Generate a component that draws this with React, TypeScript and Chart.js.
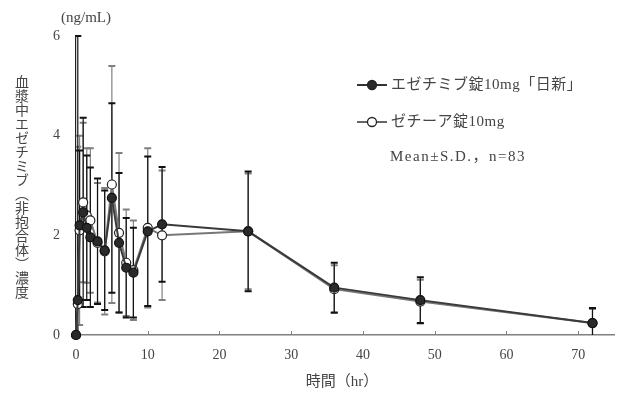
import React, { useEffect, useRef } from 'react';
import { Chart, registerables } from 'chart.js';

Chart.register(...registerables);

// ---- data ----
const times = [0, 0.25, 0.5, 1, 1.5, 2, 3, 4, 5, 6, 7, 8, 10, 12, 24, 36, 48, 72];
const genericMean = [0, 0.7, 2.2, 2.46, 2.15, 1.96, 1.88, 1.7, 2.75, 1.85, 1.35, 1.25, 2.08, 2.22, 2.08, 0.95, 0.7, 0.24];
const genericSD = [0, 5.3, 1.5, 1.9, 1.45, 1.4, 1.26, 1.2, 1.9, 1.4, 1.0, 0.9, 1.5, 1.15, 1.2, 0.5, 0.46, 0.3];
const brandMean = [0, 0.62, 2.1, 2.66, 2.4, 2.3, 1.85, 1.68, 3.02, 2.05, 1.45, 1.3, 2.15, 2.0, 2.08, 0.92, 0.67, 0.24];
const brandSD = [0, 3.16, 1.9, 1.6, 1.35, 1.45, 1.2, 1.27, 2.38, 1.6, 1.07, 1.0, 1.6, 1.3, 1.16, 0.48, 0.44, 0.28];
const xTicks = [0, 10, 20, 30, 40, 50, 60, 70];
const yTicks = [0, 2, 4, 6];
const seriesNames = ['エゼチミブ錠10mg「日新」', 'ゼチーア錠10mg'];
const noteText = 'Mean±S.D.，n=83';
const unitText = '(ng/mL)';
const xTitle = '時間（hr）';
const yTitle = '血漿中エゼチミブ（非抱合体）濃度';

const FONT = "'Liberation Serif', 'Noto Sans CJK JP', serif";
const TEXT = '#444';
const DARK = '#2a2a2a';
const GRAY = '#808080';

const errorBars = {
  id: 'errorBars',
  beforeDatasetsDraw(chart: any) {
    const { ctx, chartArea, scales } = chart;
    const x = scales.x;
    const y = scales.y;
    const sets = [
      { mean: brandMean, sd: brandSD, color: GRAY },
      { mean: genericMean, sd: genericSD, color: '#111' },
    ];
    ctx.save();
    ctx.beginPath();
    ctx.rect(chartArea.left, chartArea.top - 2, chartArea.right - chartArea.left, chartArea.bottom - chartArea.top + 2);
    ctx.clip();
    sets.forEach((s) => {
      ctx.strokeStyle = s.color;
      times.forEach((t, i) => {
        const sd = s.sd[i];
        if (!sd) return;
        const px = x.getPixelForValue(t);
        const top = y.getPixelForValue(s.mean[i] + sd);
        const bot = y.getPixelForValue(s.mean[i] - sd);
        ctx.lineWidth = 1.2;
        ctx.beginPath();
        ctx.moveTo(px, top);
        ctx.lineTo(px, bot);
        ctx.stroke();
        ctx.lineWidth = 2;
        ctx.beginPath();
        ctx.moveTo(px - 3.5, top);
        ctx.lineTo(px + 3.5, top);
        ctx.moveTo(px - 3.5, bot);
        ctx.lineTo(px + 3.5, bot);
        ctx.stroke();
      });
    });
    ctx.restore();
  },
};

const decorations = {
  id: 'decorations',
  afterDraw(chart: any) {
    const { ctx, scales } = chart;
    const x = scales.x;
    const y = scales.y;
    ctx.save();
    // inward ticks on x axis
    ctx.strokeStyle = GRAY;
    ctx.lineWidth = 1;
    xTicks.forEach((v) => {
      if (v === 0) return;
      const px = Math.round(x.getPixelForValue(v)) + 0.5;
      ctx.beginPath();
      ctx.moveTo(px, y.bottom);
      ctx.lineTo(px, y.bottom - 4);
      ctx.stroke();
    });
    // unit
    ctx.fillStyle = TEXT;
    ctx.font = `15px ${FONT}`;
    ctx.textAlign = 'left';
    ctx.textBaseline = 'middle';
    ctx.fillText(unitText, 61, 18);
    // x title
    ctx.textAlign = 'center';
    ctx.fillText(xTitle, 342, 382);
    // legend
    const items = [
      { y: 85, line: '#333', fill: DARK, name: seriesNames[0] },
      { y: 122, line: '#666', fill: '#fff', name: seriesNames[1] },
    ];
    items.forEach((it) => {
      ctx.strokeStyle = it.line;
      ctx.lineWidth = 2;
      ctx.beginPath();
      ctx.moveTo(357, it.y);
      ctx.lineTo(387, it.y);
      ctx.stroke();
      ctx.beginPath();
      ctx.arc(372, it.y, 4.5, 0, Math.PI * 2);
      ctx.fillStyle = it.fill;
      ctx.fill();
      ctx.lineWidth = 1.3;
      ctx.strokeStyle = '#222';
      ctx.stroke();
      ctx.fillStyle = TEXT;
      ctx.textAlign = 'left';
      ctx.font = `15px ${FONT}`;
      (ctx as any).letterSpacing = '0.5px';
      ctx.fillText(it.name, 391, it.y);
    });
    (ctx as any).letterSpacing = '1.5px';
    ctx.fillText(noteText, 390, 157);
    (ctx as any).letterSpacing = '0px';
    ctx.restore();
  },
};

export default function App() {
  const ref = useRef<HTMLCanvasElement | null>(null);

  useEffect(() => {
    if (!ref.current) return;
    const chart = new Chart(ref.current, {
      type: 'line',
      data: {
        datasets: [
          {
            label: seriesNames[0],
            data: times.map((t, i) => ({ x: t, y: genericMean[i] })),
            borderColor: '#3a3a3a',
            borderWidth: 2,
            backgroundColor: DARK,
            pointBackgroundColor: DARK,
            pointBorderColor: '#111',
            pointBorderWidth: 1.2,
            pointRadius: 4.5,
            tension: 0,
            clip: false as any,
          },
          {
            label: seriesNames[1],
            data: times.map((t, i) => ({ x: t, y: brandMean[i] })),
            borderColor: '#777',
            borderWidth: 2,
            backgroundColor: '#fff',
            pointBackgroundColor: '#fff',
            pointBorderColor: '#222',
            pointBorderWidth: 1.2,
            pointRadius: 4.5,
            tension: 0,
            clip: false as any,
          },
        ],
      },
      options: {
        animation: false,
        responsive: false,
        maintainAspectRatio: false,
        layout: { padding: { top: 36, right: 6, left: 0, bottom: 0 } },
        plugins: { legend: { display: false }, tooltip: { enabled: false } },
        scales: {
          x: {
            type: 'linear',
            min: 0,
            max: 75,
            afterBuildTicks: (scale: any) => {
              scale.ticks = xTicks.map((v) => ({ value: v }));
            },
            afterFit: (scale: any) => {
              scale.height = 63;
            },
            grid: { display: false },
            border: { display: true, color: GRAY, width: 1.5 },
            ticks: { color: TEXT, font: { family: FONT, size: 14 }, padding: 4, maxRotation: 0 },
          },
          y: {
            type: 'linear',
            min: 0,
            max: 6,
            afterBuildTicks: (scale: any) => {
              scale.ticks = yTicks.map((v) => ({ value: v }));
            },
            afterFit: (scale: any) => {
              scale.width = 76;
            },
            grid: { display: false },
            border: { display: true, color: '#222', width: 1.2 },
            ticks: { color: TEXT, font: { family: FONT, size: 14 }, padding: 8 },
          },
        },
      },
      plugins: [errorBars, decorations],
    } as any);
    return () => chart.destroy();
  }, []);

  return (
    <div style={{ position: 'absolute', left: 0, top: 0, width: 620, height: 398, background: '#fff' }}>
      <canvas ref={ref} width={620} height={398} style={{ position: 'absolute', left: 0, top: 0 }} />
      <div
        style={{
          position: 'absolute',
          left: 14,
          top: 75,
          writingMode: 'vertical-rl',
          fontFamily: "'Noto Sans CJK JP', sans-serif",
          fontSize: 14,
          lineHeight: '16px',
          color: TEXT,
          whiteSpace: 'nowrap',
        }}
      >
        {yTitle}
      </div>
    </div>
  );
}
